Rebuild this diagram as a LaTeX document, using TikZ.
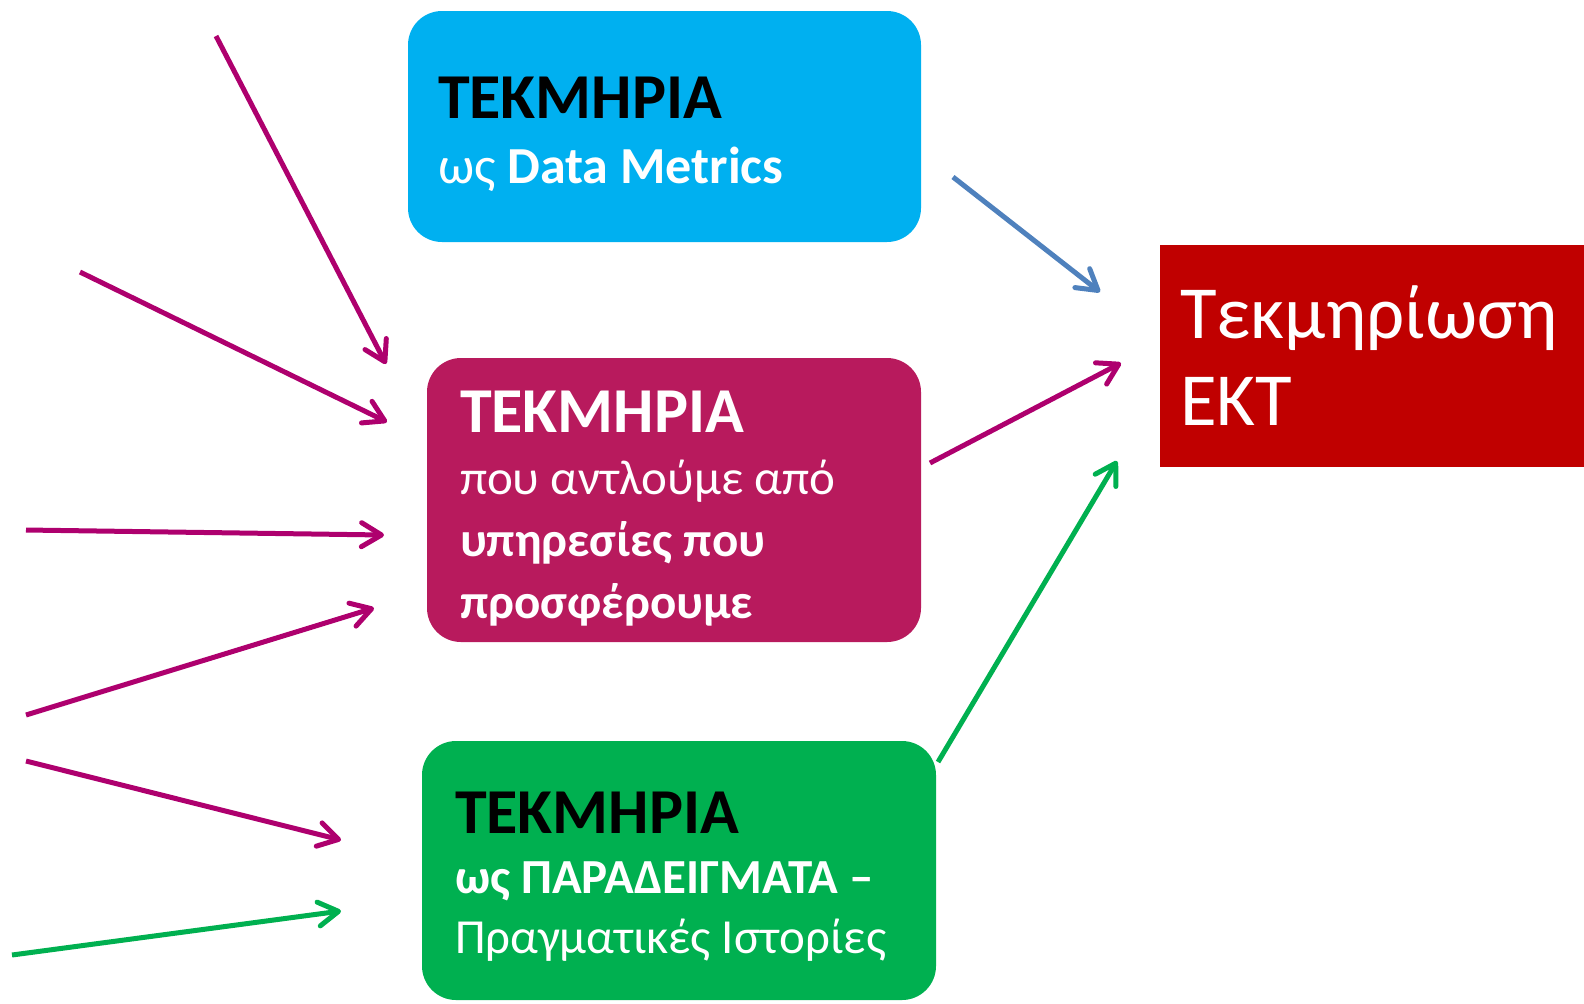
\documentclass[tikz,border=0pt]{standalone}
\usepackage{fontspec}
\setmainfont{Carlito}
\usetikzlibrary{arrows.meta,positioning}

\definecolor{cblue}{HTML}{00B0F0}
\definecolor{cmag}{HTML}{B81A5D}
\definecolor{cgreen}{HTML}{00B050}
\definecolor{cred}{HTML}{C00000}
\definecolor{amag}{HTML}{AE006E}
\definecolor{ablue}{HTML}{4F81BD}

\newcommand{\titlefont}{\fontsize{32}{38}\selectfont\bfseries}

\begin{document}
\begin{tikzpicture}[x=0.5pt,y=-0.5pt,
    box/.style={rounded corners=17pt,inner sep=0pt},
    txt/.style={inner sep=0pt,align=left,text=white},
    arr/.style={line width=2.5pt,-{Straight Barb[length=10pt,width=12pt,round]}}]
	   \useasboundingbox (0,0) rectangle (1584,1003);
	   % boxes
	   \node[box,fill=cblue,minimum width=256.5pt,minimum height=115.5pt] (tm_data) at (664.5,126.5) {};
	   \node[box,fill=cmag,minimum width=247pt,minimum height=142pt] (tm_serv) at (674,500) {};
	   \node[box,fill=cgreen,minimum width=257pt,minimum height=129.5pt] (tm_ex) at (679,870.5) {};
	   \node[box,rounded corners=0pt,fill=cred,minimum width=212pt,minimum height=111pt,text width=192pt,
	     txt,font=\fontsize{37.5}{43.5}\selectfont] (ekt) at (1372,356) {Τεκμηρίωση\\ ΕΚΤ};
	   % texts of the boxes
	   \node[txt,font=\fontsize{26}{32.5}\selectfont,below right=33pt and 15pt of tm_data.north west] (tm_data_t)
	     {{\titlefont\color{black}ΤΕΚΜΗΡΙΑ}\\ ως \textbf{Data Metrics}};
	   \node[txt,font=\fontsize{24.5}{31}\selectfont,below right=16.5pt and 16.5pt of tm_serv.north west] (tm_serv_t)
	     {{\titlefont ΤΕΚΜΗΡΙΑ}\\ που αντλούμε από\\ \bfseries υπηρεσίες που\\ \bfseries προσφέρουμε};
	   \node[txt,font=\fontsize{24.5}{30}\selectfont,below right=25.5pt and 16.5pt of tm_ex.north west] (tm_ex_t)
	     {{\titlefont\color{black}ΤΕΚΜΗΡΙΑ}\\ \textbf{ως ΠΑΡΑΔΕΙΓΜΑΤΑ –}\\ Πραγματικές Ιστορίες};
	   % free ends of the arrows
	   \coordinate (s_1) at (216,36);   \coordinate (t_1) at (386,364);
	   \coordinate (s_2) at (80,272);   \coordinate (t_2) at (387,422);
	   \coordinate (s_3) at (26,530);   \coordinate (t_3) at (384,535);
	   \coordinate (s_4) at (26,715);   \coordinate (t_4) at (374,608);
	   \coordinate (s_5) at (26,761);   \coordinate (t_5) at (341,840);
	   \coordinate (s_6) at (12,955);   \coordinate (t_6) at (341,911);
	   \coordinate (s_7) at (953,177);  \coordinate (t_7) at (1100,292);
	   \coordinate (s_8) at (930,463);  \coordinate (t_8) at (1121,363);
	   \coordinate (s_9) at (938,762);  \coordinate (t_9) at (1117,461);
	    \path[arr,amag]
	    (s_1) edge (t_1)
	    (s_2) edge (t_2)
	    (s_3) edge (t_3)
	    (s_4) edge (t_4)
	    (s_5) edge (t_5)
	    (s_8) edge (t_8);
	    \path[arr,cgreen]
	    (s_6) edge (t_6)
	    (s_9) edge (t_9);
	    \path[arr,ablue] (s_7) edge (t_7);
	\end{tikzpicture}
\end{document}
